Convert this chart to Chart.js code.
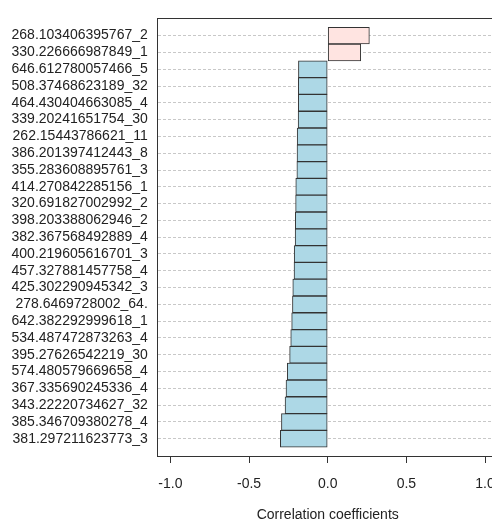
<!DOCTYPE html>
<html>
<head>
<meta charset="utf-8">
<script src="https://cdn.jsdelivr.net/npm/chart.js@4.4.1/dist/chart.umd.min.js"></script>
<style>
  html, body { margin: 0; padding: 0; background: #fff; overflow: hidden; }
  #wrap { width: 510px; height: 521px; }
</style>
</head>
<body>
<div id="wrap"><canvas id="chart" width="510" height="521"></canvas></div>
<script>
// Features, top to bottom
const categories = [
  '268.103406395767_2', '330.226666987849_1', '646.612780057466_5',
  '508.37468623189_32', '464.430404663085_4', '339.20241651754_30',
  '262.15443786621_11', '386.201397412443_8', '355.283608895761_3',
  '414.270842285156_1', '320.691827002992_2', '398.203388062946_2',
  '382.367568492889_4', '400.219605616701_3', '457.327881457758_4',
  '425.302290945342_3', '278.6469728002_64.', '642.382292999618_1',
  '534.487472873263_4', '395.27626542219_30', '574.480579669658_4',
  '367.335690245336_4', '343.22220734627_32', '385.346709380278_4',
  '381.297211623773_3'
]

const coefficients = [
  0.265, 0.21, -0.186, -0.187, -0.187, -0.188, -0.194, -0.195, -0.196,
  -0.203, -0.204, -0.206, -0.207, -0.213, -0.214, -0.222, -0.224, -0.229,
  -0.235, -0.242, -0.257, -0.265, -0.271, -0.294, -0.301
]

const xTicks = [-1.0, -0.5, 0.0, 0.5, 1.0]

const POS_COLOR = '#FFE4E1'
const NEG_COLOR = '#ADD8E6'
const INK = '#222222'

// Plot box: top and bottom edges (left edge comes from the y axis border)
const plotFrame = {
  id: 'plotFrame',
  afterDraw(chart) {
    const { ctx, chartArea } = chart
    const top = Math.round(chartArea.top) + 0.5
    const bottom = Math.round(chartArea.bottom) + 0.5
    ctx.save()
    ctx.strokeStyle = '#333333'
    ctx.lineWidth = 1
    ctx.beginPath()
    ctx.moveTo(chartArea.left, top)
    ctx.lineTo(chartArea.right + 20, top)
    ctx.moveTo(chartArea.left, bottom)
    ctx.lineTo(chartArea.right + 20, bottom)
    ctx.stroke()
    ctx.restore()
  }
}

Chart.defaults.font.family = '"Liberation Sans", Arial, sans-serif'
Chart.defaults.font.size = 14
Chart.defaults.color = INK

new Chart(document.getElementById('chart'), {
  type: 'bar',
  data: {
    datasets: [{
      data: coefficients.map((v, i) => ({ x: v, y: i })),
      backgroundColor: coefficients.map(v => v > 0 ? POS_COLOR : NEG_COLOR),
      borderColor: '#333333',
      borderWidth: 1,
      borderSkipped: false,
      categoryPercentage: 1,
      barPercentage: 1,
    }]
  },
  options: {
    indexAxis: 'y',
    responsive: false,
    animation: false,
    layout: { padding: { top: 17, right: 12.4, left: 0, bottom: 0 } },
    plugins: {
      legend: { display: false },
      tooltip: { enabled: false },
    },
    scales: {
      x: {
        type: 'linear',
        min: -1.08,
        max: 1.08,
        afterBuildTicks(scale) {
          scale.ticks = xTicks.map(v => ({ value: v }))
        },
        afterFit(scale) { scale.height = 65 },
        grid: {
          drawOnChartArea: false,
          drawTicks: true,
          tickLength: 7,
          color: '#333333',
        },
        border: { display: true, color: '#333333' },
        ticks: {
          padding: 13,
          color: INK,
          callback: v => Number(v).toFixed(1),
        },
        title: {
          display: true,
          text: 'Correlation coefficients',
          color: INK,
          font: { size: 14, lineHeight: 0.8 },
          padding: { top: 0, bottom: 0 },
        },
      },
      y: {
        type: 'linear',
        reverse: true,
        offset: false,
        min: -1.025,
        max: 25.025,
        afterBuildTicks(scale) {
          scale.ticks = categories.map((_, i) => ({ value: i }))
        },
        afterFit(scale) { scale.width = 157.8 },
        grid: {
          offset: false,
          drawOnChartArea: true,
          drawTicks: false,
          color: '#c8c8c8',
          lineWidth: 1,
        },
        // in v4 border.dash styles the grid lines
        border: { display: true, color: '#333333', dash: [3, 2] },
        ticks: {
          autoSkip: false,
          padding: 10,
          color: INK,
          callback: v => categories[v],
        },
      },
    },
  },
  plugins: [plotFrame],
})
</script>
</body>
</html>
